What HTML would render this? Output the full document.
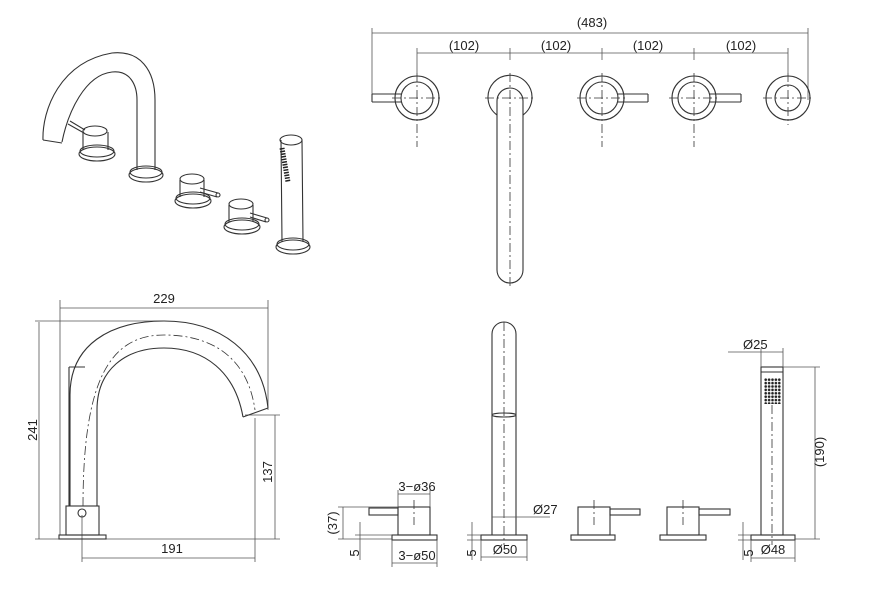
<!DOCTYPE html>
<html><head><meta charset="utf-8"><style>
html,body{margin:0;padding:0;background:#fff;width:893px;height:609px;overflow:hidden}
svg{display:block}
text{font-family:"Liberation Sans",sans-serif;font-size:13px;fill:#222}
.l{stroke:#333;stroke-width:1.1;fill:none}
.t{stroke:#555;stroke-width:0.8;fill:none}
.c{stroke:#333;stroke-width:0.8;fill:none;stroke-dasharray:9 3 2 3}
.w{stroke:#333;stroke-width:1.1;fill:#fff}
</style></head><body>
<svg width="893" height="609" viewBox="0 0 893 609">
<defs>
<pattern id="dots" x="764" y="378" width="3.4" height="3.4" patternUnits="userSpaceOnUse">
<circle cx="1.7" cy="1.7" r="1.3" fill="#222"/>
</pattern>
</defs>
<!-- ISOMETRIC -->
<g class="l">
<path d="M43,140 C42,110 60,62 112,53 C140,50 155,70 155,100 L155,170"/>
<path d="M62,142 C68,112 85,75 112,72 C130,70 137,85 137,100 L137,170"/>
<path d="M43,140 L62,143"/>
<ellipse cx="146" cy="175" rx="17" ry="7"/><ellipse cx="146" cy="172" rx="16" ry="6"/>
<ellipse cx="97" cy="154" rx="18" ry="7"/><ellipse cx="97" cy="151" rx="17" ry="6"/>
<path d="M83,132 L83,150 M108,132 L108,150"/><ellipse class="w" cx="95" cy="131" rx="12" ry="5"/>
<path d="M70,121 L85,130 M68,124 L84,133"/>
<ellipse cx="193" cy="201" rx="18" ry="7"/><ellipse cx="193" cy="198" rx="17" ry="6"/>
<path d="M180,180 L180,197 M204,180 L204,197"/><ellipse class="w" cx="192" cy="179" rx="12" ry="5"/>
<path d="M200,188 L218,193 M200,192 L217,197"/><circle cx="218" cy="195" r="2"/>
<ellipse cx="242" cy="227" rx="18" ry="7"/><ellipse cx="242" cy="224" rx="17" ry="6"/>
<path d="M229,205 L229,222 M253,205 L253,222"/><ellipse class="w" cx="241" cy="204" rx="12" ry="5"/>
<path d="M250,213 L267,218 M250,217 L266,222"/><circle cx="267" cy="220" r="2"/>
<ellipse cx="293" cy="247" rx="17" ry="7"/><ellipse cx="293" cy="244" rx="16" ry="6"/>
<path d="M281,140 L282,242 M302,140 L303,242"/><ellipse cx="291" cy="140" rx="11" ry="5"/>
</g>
<path d="M282,148 L288,182" stroke="#222" stroke-width="5" stroke-dasharray="1.5 1.2"/>
<!-- PLAN VIEW -->
<g class="t">
<path d="M372,33 L808,33 M372,28 L372,100 M808,28 L808,100"/>
<path d="M417,53 L788,53 M417,48 L417,73 M788,48 L788,73"/>
<path d="M510,48 L510,60 M602,48 L602,60 M694,48 L694,60"/>
</g>
<text x="592" y="27" text-anchor="middle">(483)</text>
<text x="464" y="50" text-anchor="middle">(102)</text>
<text x="556" y="50" text-anchor="middle">(102)</text>
<text x="648" y="50" text-anchor="middle">(102)</text>
<text x="741" y="50" text-anchor="middle">(102)</text>
<g class="l">
<circle cx="417" cy="98" r="22"/><circle cx="417" cy="98" r="16"/>
<path d="M372,94 L401,94 M372,102 L401,102 M372,94 L372,102"/>
<circle cx="602" cy="98" r="22"/><circle cx="602" cy="98" r="16"/>
<path d="M618,94 L648,94 M618,102 L648,102 M648,94 L648,102"/>
<circle cx="694" cy="98" r="22"/><circle cx="694" cy="98" r="16"/>
<path d="M710,94 L741,94 M710,102 L741,102 M741,94 L741,102"/>
<circle cx="788" cy="98" r="22"/><circle cx="788" cy="98" r="13"/>
<path d="M497,115 A22,22 0 1 1 523,115"/>
<path d="M497,101 A13,13 0 0 1 523,101 L523,270 A13,13 0 0 1 497,270 Z"/>
</g>
<g class="c">
<path d="M417,73 L417,147 M392,98 L442,98"/>
<path d="M602,73 L602,147 M577,98 L627,98"/>
<path d="M694,73 L694,147 M669,98 L719,98"/>
<path d="M788,73 L788,125 M763,98 L813,98"/>
<path d="M510,73 L510,287 M485,98 L535,98"/>
</g>
<!-- SIDE VIEW -->
<g class="t">
<path d="M60,308 L268,308 M60,300 L60,535 M268,300 L268,410"/>
<path d="M39,322 L39,539 M35,321 L164,321 M35,539 L60,539"/>
<path d="M275,415 L275,539 M245,415 L280,415 M106,539 L280,539"/>
<path d="M82,558 L255,558 M82,515 L82,562 M255,418 L255,562"/>
</g>
<text x="164" y="303" text-anchor="middle">229</text>
<text x="172" y="553" text-anchor="middle">191</text>
<text transform="translate(37,430) rotate(-90)" text-anchor="middle">241</text>
<text transform="translate(272,472) rotate(-90)" text-anchor="middle">137</text>
<g class="l">
<path d="M70,506 L70,395 C70,345 110,321 164,321 C220,321 262,352 268,408"/>
<path d="M97,506 L97,410 C97,370 125,348 164,348 C205,348 235,372 243,417"/>
<path d="M243,417 L268,408"/>
<path d="M69,367 L85,367 M69,367 L69,506"/>
<rect x="66" y="506" width="33" height="29"/>
<rect x="59" y="535" width="47" height="4"/>
<circle cx="82" cy="513" r="4"/>
</g>
<path class="c" d="M83,506 C83,380 110,335 164,335 C215,335 248,360 255,410"/>
<!-- BOTTOM ROW -->
<g class="l">
<rect x="392" y="535" width="45" height="5"/><rect x="398" y="507" width="32" height="28"/>
<rect x="369" y="508" width="29" height="7"/>
<rect x="481" y="535" width="46" height="5"/>
<path d="M492,535 L492,334 A12,12 0 0 1 516,334 L516,535"/>
<ellipse cx="504" cy="415" rx="12" ry="2"/>
<rect x="571" y="535" width="44" height="5"/><rect x="578" y="507" width="32" height="28"/>
<rect x="610" y="509" width="30" height="6"/>
<rect x="660" y="535" width="46" height="5"/><rect x="667" y="507" width="32" height="28"/>
<rect x="699" y="509" width="31" height="6"/>
<rect x="751" y="535" width="44" height="5"/><rect x="761" y="367" width="22" height="168"/>
<path d="M761,372 L783,372"/>
</g>
<rect x="764" y="378" width="17" height="26" fill="url(#dots)"/>
<g class="c">
<path d="M414,500 L414,525"/><path d="M504,322 L504,545"/><path d="M594,500 L594,525"/>
<path d="M683,500 L683,525"/><path d="M772,405 L772,545"/>
</g>
<g class="t">
<path d="M398,494 L430,494 M398,490 L398,507 M430,490 L430,507"/>
<path d="M392,563 L437,563 M392,540 L392,567 M437,540 L437,567"/>
<path d="M343,507 L343,539 M338,507 L398,507 M338,539 L392,539"/>
<path d="M360,522 L360,560 M355,535 L392,535"/>
<path d="M492,517 L550,517"/>
<path d="M481,557 L527,557 M481,540 L481,561 M527,540 L527,561"/>
<path d="M472,522 L472,560 M467,535 L481,535 M467,540 L481,540"/>
<path d="M728,352 L783,352 M761,348 L761,367 M783,348 L783,367"/>
<path d="M815,367 L815,539 M783,367 L820,367 M795,539 L820,539"/>
<path d="M751,558 L795,558 M751,540 L751,562 M795,540 L795,562"/>
<path d="M743,522 L743,560 M738,535 L751,535 M738,540 L751,540"/>
</g>
<text x="417" y="491" text-anchor="middle">3−ø36</text>
<text x="417" y="560" text-anchor="middle">3−ø50</text>
<text transform="translate(337,523) rotate(-90)" text-anchor="middle">(37)</text>
<text transform="translate(359,553) rotate(-90)" text-anchor="middle">5</text>
<text x="533" y="514">Ø27</text>
<text x="505" y="554" text-anchor="middle">Ø50</text>
<text transform="translate(476,553) rotate(-90)" text-anchor="middle">5</text>
<text x="743" y="349">Ø25</text>
<text transform="translate(824,452) rotate(-90)" text-anchor="middle">(190)</text>
<text x="773" y="554" text-anchor="middle">Ø48</text>
<text transform="translate(753,553) rotate(-90)" text-anchor="middle">5</text>
</svg>
</body></html>
